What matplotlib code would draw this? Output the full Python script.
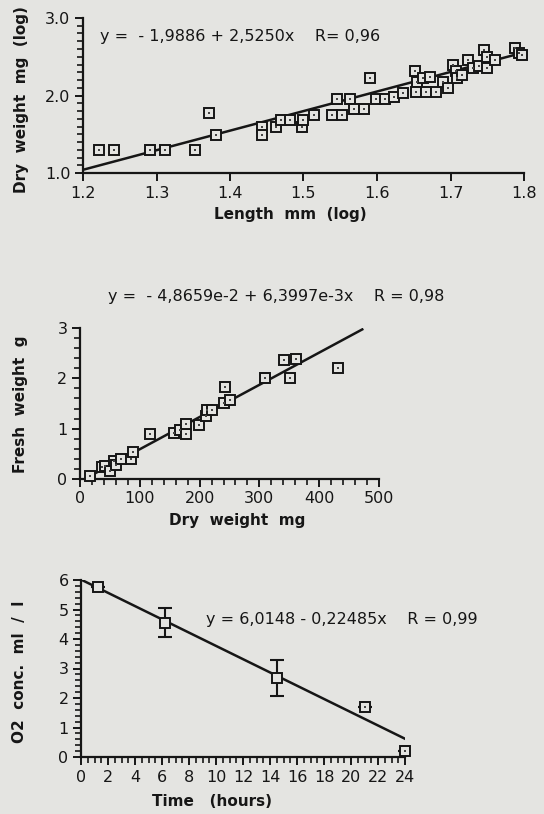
import matplotlib.pyplot as plt
from matplotlib.ticker import MultipleLocator, FormatStrFormatter
import numpy as np

# Dry weight vs length (both log10)
length_log = [1.222, 1.242, 1.291, 1.311, 1.352, 1.371, 1.381, 1.443, 1.444, 1.463,
              1.469, 1.482, 1.498, 1.500, 1.514, 1.539, 1.553, 1.546, 1.563, 1.569,
              1.582, 1.590, 1.598, 1.611, 1.623, 1.635, 1.652, 1.654, 1.653, 1.667,
              1.680, 1.663, 1.672, 1.690, 1.697, 1.703, 1.707, 1.709, 1.716, 1.724,
              1.731, 1.739, 1.746, 1.749, 1.750, 1.760, 1.788, 1.793, 1.797]
dry_log = [1.30, 1.30, 1.30, 1.30, 1.30, 1.77, 1.49, 1.59, 1.49, 1.59,
           1.69, 1.69, 1.59, 1.69, 1.75, 1.75, 1.75, 1.95, 1.95, 1.82,
           1.82, 2.22, 1.95, 1.95, 1.98, 2.03, 2.31, 2.18, 2.05, 2.05,
           2.05, 2.22, 2.24, 2.18, 2.10, 2.39, 2.31, 2.22, 2.26, 2.46,
           2.35, 2.38, 2.59, 2.50, 2.35, 2.46, 2.61, 2.55, 2.52]
fit1 = (-1.9886, 2.5250)

# Fresh weight (g) vs dry weight (mg)
dry_mg = [17, 36, 42, 50, 57, 60, 68, 86, 88, 117, 158, 167, 177, 178, 199,
          211, 212, 220, 241, 242, 251, 310, 341, 352, 362, 432]
fresh_g = [0.05, 0.23, 0.25, 0.16, 0.35, 0.28, 0.40, 0.40, 0.54, 0.90, 0.91, 0.98,
           0.90, 1.10, 1.07, 1.25, 1.38, 1.38, 1.51, 1.83, 1.57, 2.00, 2.36, 2.00,
           2.39, 2.20]
fit2 = (-4.8659e-2, 6.3997e-3)

# O2 concentration over time
hours = [1.25, 6.25, 14.5, 21, 24]
o2 = [5.75, 4.55, 2.68, 1.68, 0.22]
o2_err = [0, 0.49, 0.62, 0, 0]
fit3 = (6.0148, -0.22485)

W, H = 544, 814
bg = "#e4e4e1"
ink = "#161616"

plt.rcParams["font.family"] = "DejaVu Sans"
plt.rcParams["font.size"] = 11.5
plt.rcParams["text.color"] = ink
plt.rcParams["axes.edgecolor"] = ink
plt.rcParams["xtick.color"] = ink
plt.rcParams["ytick.color"] = ink

fig = plt.figure(figsize=(W / 100, H / 100), dpi=100, facecolor=bg)


def px_axes(left, top, right, bottom):
    ax = fig.add_axes([left / W, 1 - bottom / H, (right - left) / W, (bottom - top) / H])
    ax.set_facecolor("none")
    for s in ["top", "right"]:
        ax.spines[s].set_visible(False)
    for s in ["left", "bottom"]:
        ax.spines[s].set_linewidth(1.6)
    ax.tick_params(which="major", direction="out", length=6, width=1.4, pad=3)
    ax.tick_params(which="minor", direction="out", length=4, width=1.2)
    return ax


def px_text(x, y, s, **kw):
    fig.text(x / W, 1 - y / H, s, ha="center", va="center", fontweight="bold",
             fontsize=11, **kw)


def boxes(ax, x, y, dotted=True):
    ax.plot(x, y, "s", ms=6.5, mfc=bg, mec=ink, mew=1.4, clip_on=False, zorder=3)
    if dotted:
        ax.plot(x, y, "s", ms=1.8, color="#444", mew=0, clip_on=False, zorder=4)


# top panel
ax1 = px_axes(83, 18, 524, 173)
ax1.set_xlim(1.2, 1.8)
ax1.set_ylim(1.0, 3.0)
ax1.xaxis.set_major_locator(MultipleLocator(0.1))
ax1.yaxis.set_major_locator(MultipleLocator(1.0))
ax1.yaxis.set_minor_locator(MultipleLocator(0.1))
ax1.yaxis.set_major_formatter(FormatStrFormatter("%.1f"))
xs = np.array([1.2, 1.8])
ax1.plot(xs, fit1[0] + fit1[1] * xs, color=ink, lw=1.8, zorder=2)
boxes(ax1, length_log, dry_log)
ax1.text(0.038, 0.88, "y =  - 1,9886 + 2,5250x    R= 0,96", transform=ax1.transAxes,
         va="center", ha="left")
px_text(290, 214, "Length  mm  (log)")
px_text(22, 100, "Dry  weight  mg  (log)", rotation=90)

# middle panel
ax2 = px_axes(80, 328, 379, 479)
ax2.set_xlim(0, 500)
ax2.set_ylim(0, 3)
ax2.xaxis.set_major_locator(MultipleLocator(100))
ax2.xaxis.set_minor_locator(MultipleLocator(20))
ax2.yaxis.set_major_locator(MultipleLocator(1))
ax2.yaxis.set_minor_locator(MultipleLocator(0.2))
xs = np.array([-fit2[0] / fit2[1], 472])
ax2.plot(xs, fit2[0] + fit2[1] * xs, color=ink, lw=1.8, zorder=2)
boxes(ax2, dry_mg, fresh_g)
ax2.text(0.655, 1.21, "y =  - 4,8659e-2 + 6,3997e-3x    R = 0,98", transform=ax2.transAxes,
         va="center", ha="center")
px_text(237, 520, "Dry  weight  mg")
px_text(21, 404, "Fresh  weight  g", rotation=90)

# bottom panel
ax3 = px_axes(81, 580, 405, 757)
ax3.set_xlim(0, 24)
ax3.set_ylim(0, 6)
ax3.xaxis.set_major_locator(MultipleLocator(2))
ax3.xaxis.set_minor_locator(MultipleLocator(0.5))
ax3.yaxis.set_major_locator(MultipleLocator(1))
ax3.yaxis.set_minor_locator(MultipleLocator(0.2))
xs = np.array([0, 24])
ax3.plot(xs, fit3[0] + fit3[1] * xs, color=ink, lw=1.8, zorder=2)
ax3.errorbar(hours, o2, yerr=o2_err, fmt="none", ecolor=ink, elinewidth=1.5,
             capsize=5, capthick=1.5, zorder=2)
boxes(ax3, hours[:3], o2[:3], dotted=False)
boxes(ax3, hours[3:], o2[3:])
ax3.text(0.385, 0.775, "y = 6,0148 - 0,22485x    R = 0,99", transform=ax3.transAxes,
         va="center", ha="left")
px_text(212, 801, "Time   (hours)")
px_text(20, 672, "O2  conc.  ml  /  l", rotation=90)

fig.savefig("out.png", dpi=100, facecolor=bg)
